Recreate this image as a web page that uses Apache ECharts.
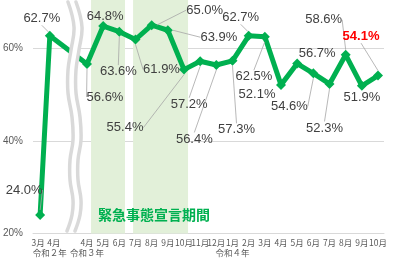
<!DOCTYPE html>
<html>
<head>
<meta charset="utf-8">
<script src="https://cdn.jsdelivr.net/npm/echarts@6/dist/echarts.min.js"></script>
<style>
  html, body { margin: 0; padding: 0; background: #fff; }
  #chart { width: 400px; height: 258px; }
</style>
</head>
<body>
<div id="chart"></div>
<script>
(function () {
  "use strict";

  // ── Data ──
  // month labels (令和2年 3-4月, then 令和3年 4月 … 令和4年 10月)
  var monthLabels = [
    "3月", "4月",
    "4月", "5月", "6月", "7月", "8月", "9月", "10月", "11月", "12月",
    "1月", "2月", "3月", "4月", "5月", "6月", "7月", "8月", "9月", "10月"
  ];
  // slot on the x scale (the gap between 令和2年 and 令和3年 is compressed)
  var monthSlots = [-2.9, -2.3, 0, 1, 2, 3, 4, 5, 6, 7, 8, 9, 10, 11, 12, 13, 14, 15, 16, 17, 18];
  // year caption shown under the month with this index
  var yearLabels = { 1: "令和２年", 2: "令和３年", 11: "令和４年" };
  var rates = [
    24.0, 62.7,
    56.6, 64.8, 63.6, 61.9, 65.0, 63.9, 55.4, 57.2, 56.4,
    57.3, 62.7, 62.5, 52.1, 56.7, 54.6, 52.3, 58.6, 51.9, 54.1
  ];
  // emergency declaration periods, in x slots
  var emergencyPeriods = [[0.25, 2.35], [2.85, 6.25]];
  var yTicks = { min: 20, max: 80, step: 20 };

  // label placement (px offset from point) and whether a leader line is drawn
  var labelNudge = [
    [-16, -25], [-8, -17],
    [18, 33], [2, -10], [-1, 40], [26, 30], [53, -15], [51, 7], [-59, 58], [-11, 43], [-22, 74],
    [4, 69], [-8, -18], [-11, 40], [-24, 10], [20, -10], [-24, 33], [-5, 44], [-22, -35], [0, 12], [-17, -39]
  ];
  var leader = [1, 1, 1, 0, 1, 1, 1, 1, 1, 1, 1, 1, 1, 1, 0, 0, 1, 1, 1, 0, 1];

  var GREEN = "#00b050";
  var GRID = "#d9d9d9";
  var TEXT = "#595959";

  var points = [];
  for (var i = 0; i < rates.length; i++) {
    var item = {
      value: [monthSlots[i], rates[i]],
      labelLine: { show: !!leader[i] }
    };
    if (i === rates.length - 1) {
      item.label = { color: "#ff0000", fontWeight: "bold" };
    }
    points.push(item);
  }

  // two label rows: axis 0 gets plain months, axis 1 the months that carry a year caption
  // (keeps the close 3月/4月 pair of 令和2年 on different axes so neither gets dropped)
  var plainSlots = [], captionSlots = [];
  for (var k = 0; k < monthSlots.length; k++) {
    if (yearLabels[k] !== undefined) captionSlots.push(monthSlots[k]);
    else plainSlots.push(monthSlots[k]);
  }

  function plainFor(v) {
    var idx = monthSlots.indexOf(v);
    if (idx < 0) return "";
    return idx === 0 ? "{pl|" + monthLabels[idx] + "}" : monthLabels[idx];
  }

  function captionFor(v) {
    var idx = monthSlots.indexOf(v);
    if (idx < 0) return "";
    var m = idx === 1 ? "{pr|" + monthLabels[idx] + "}" : monthLabels[idx];
    return m + "\n" + yearLabels[idx];
  }

  var bands = emergencyPeriods.map(function (p) {
    return [{ xAxis: p[0] }, { xAxis: p[1] }];
  });

  // wavy break between 令和2年 and 令和3年 (decoration)
  var waveL = [[68, 2], [74, 27], [71, 50], [68, 70], [68, 93], [72, 117], [73, 140],
               [70, 160], [70, 180], [73, 200], [72, 215], [67, 231]];
  var waveR = waveL.map(function (p) { return [p[0] + 8, p[1]]; });
  var waveFill = waveL.concat(waveR.slice().reverse());

  var chart = echarts.init(document.getElementById("chart"), null, { renderer: "canvas" });

  var FONT_X = { color: TEXT, fontSize: 8.5, lineHeight: 10, fontFamily: "Noto Sans CJK JP" };
  var xLabelStyle = Object.assign({
    hideOverlap: false,
    margin: 4,
    verticalAlign: "top",
    rich: {
      pl: Object.assign({ padding: [0, 4, 0, 0] }, FONT_X),
      pr: Object.assign({ padding: [0, 0, 0, 8] }, FONT_X)
    }
  }, FONT_X);

  var option = {
    animation: false,
    backgroundColor: "#fff",
    grid: { left: 33, right: 16, top: -44.3, bottom: 24.5, outerBoundsMode: "none", containLabel: false },
    xAxis: [
      {
        type: "value",
        min: -3.34,
        max: 18.37,
        splitLine: { show: false },
        axisTick: { show: false },
        axisLine: { show: true, lineStyle: { color: GRID } },
        axisLabel: Object.assign({}, xLabelStyle, {
          customValues: plainSlots,
          formatter: plainFor
        })
      },
      {
        type: "value",
        position: "bottom",
        min: -3.34,
        max: 18.37,
        splitLine: { show: false },
        axisTick: { show: false },
        axisLine: { show: false },
        axisLabel: Object.assign({}, xLabelStyle, {
          customValues: captionSlots,
          formatter: captionFor
        })
      }
    ],
    yAxis: {
      type: "value",
      min: yTicks.min,
      max: yTicks.max,
      interval: yTicks.step,
      axisLine: { show: false },
      axisTick: { show: false },
      splitLine: { lineStyle: { color: GRID, width: 1 } },
      axisLabel: {
        color: TEXT,
        fontSize: 10,
        margin: 10,
        fontFamily: "Liberation Sans",
        formatter: "{value}%"
      }
    },
    graphic: [
      {
        type: "polygon",
        z: 100,
        shape: { points: waveFill, smooth: 0.4 },
        style: { fill: "#fff" }
      },
      {
        type: "polyline",
        z: 101,
        shape: { points: waveL, smooth: 0.4 },
        style: { stroke: GRID, lineWidth: 3.5, fill: null, lineCap: "round" }
      },
      {
        type: "polyline",
        z: 101,
        shape: { points: waveR, smooth: 0.4 },
        style: { stroke: GRID, lineWidth: 3.5, fill: null, lineCap: "round" }
      },
      {
        type: "text",
        z: 50,
        x: 154,
        y: 215,
        style: {
          text: "緊急事態宣言期間",
          fill: GREEN,
          font: "bold 14px 'Noto Sans CJK JP'",
          align: "center",
          verticalAlign: "middle"
        }
      }
    ],
    series: [
      {
        type: "line",
        data: points,
        symbol: "diamond",
        symbolSize: 10,
        lineStyle: { color: GREEN, width: 5 },
        itemStyle: { color: GREEN },
        label: {
          show: true,
          position: "inside",
          color: "#404040",
          fontSize: 13,
          fontFamily: "Liberation Sans",
          formatter: function (p) { return p.value[1].toFixed(1) + "%"; }
        },
        labelLine: {
          show: true,
          lineStyle: { color: "#a6a6a6", width: 0.8 }
        },
        labelLayout: function (p) {
          var n = labelNudge[p.dataIndex];
          return { dx: n[0], dy: n[1] };
        },
        markArea: {
          silent: true,
          itemStyle: { color: "#e2f0d9" },
          data: bands
        }
      }
    ]
  };

  chart.setOption(option);
})();
</script>
</body>
</html>
